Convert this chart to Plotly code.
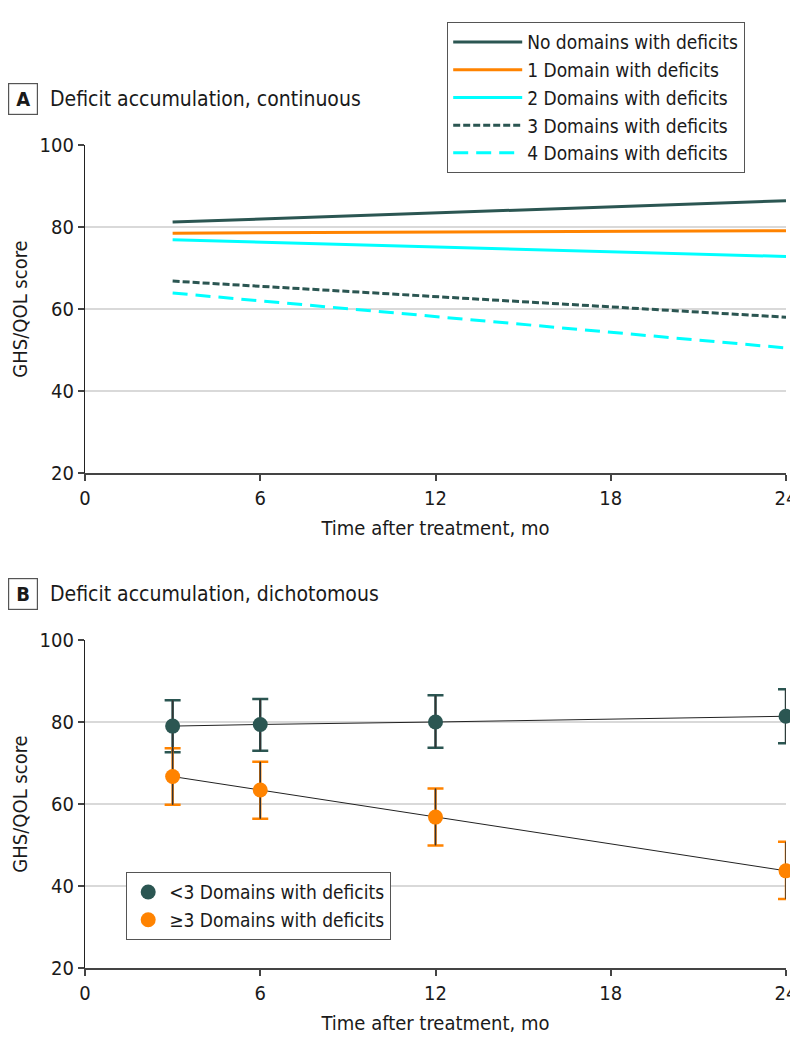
import plotly.graph_objects as go

# ---- Panel A data (model-predicted lines) ----
a_months = [3, 24]
a_series = ["No domains with deficits", "1 Domain with deficits", "2 Domains with deficits",
            "3 Domains with deficits", "4 Domains with deficits"]
a_none = [81.2, 86.4]
a_one = [78.5, 79.1]
a_two = [76.9, 72.8]
a_three = [66.8, 58.0]
a_four = [63.9, 50.5]

# ---- Panel B data (means with CIs) ----
b_months = [3, 6, 12, 24]
b_low_mean = [79.0, 79.4, 80.0, 81.4]
b_low_upper = [85.3, 85.6, 86.5, 88.0]
b_low_lower = [72.6, 73.0, 73.7, 74.8]
b_high_mean = [66.7, 63.4, 56.8, 43.7]
b_high_upper = [73.6, 70.3, 63.8, 50.8]
b_high_lower = [59.8, 56.4, 49.9, 36.8]
b_series = ["<3 Domains with deficits", "≥3 Domains with deficits"]

x_ticks = [0, 6, 12, 18, 24]
y_ticks = [20, 40, 60, 80, 100]

DARK = "#2b5652"
ORANGE = "#ff8300"
CYAN = "#00ffff"
FONT = "DejaVu Sans Condensed, Roboto, sans-serif"
TXT = "#1a1a1a"

fig = go.Figure()

a_values = [a_none, a_one, a_two, a_three, a_four]
a_styles = [
    dict(color=DARK, width=3, dash="solid"),
    dict(color=ORANGE, width=3, dash="solid"),
    dict(color=CYAN, width=3, dash="solid"),
    dict(color=DARK, width=3, dash="7px,3px"),
    dict(color=CYAN, width=3, dash="15px,8px"),
]
for name, vals, st in zip(a_series, a_values, a_styles):
    fig.add_trace(go.Scatter(x=a_months, y=vals, mode="lines", name=name, line=st,
                             xaxis="x", yaxis="y", legend="legend", cliponaxis=False))

def err(mean, up, lo):
    return [u - m for u, m in zip(up, mean)], [m - l for m, l in zip(mean, lo)]

groups = [
    (b_series[0], b_low_mean, b_low_upper, b_low_lower, DARK),
    (b_series[1], b_high_mean, b_high_upper, b_high_lower, ORANGE),
]
# connecting lines + coloured caps
for name, m, u, l, c in groups:
    plus, minus = err(m, u, l)
    fig.add_trace(go.Scatter(x=b_months, y=m, mode="lines",
                             line=dict(color="#222222", width=1),
                             error_y=dict(type="data", symmetric=False, array=plus, arrayminus=minus,
                                          color=c, thickness=2.5, width=8),
                             xaxis="x2", yaxis="y2", showlegend=False, hoverinfo="skip",
                             cliponaxis=False))
# dark stems + markers
for name, m, u, l, c in groups:
    plus, minus = err(m, u, l)
    fig.add_trace(go.Scatter(x=b_months, y=m, mode="markers", name=name,
                             marker=dict(color=c, size=15, line=dict(width=0)),
                             error_y=dict(type="data", symmetric=False, array=plus, arrayminus=minus,
                                          color="#333333", thickness=1.5, width=0),
                             xaxis="x2", yaxis="y2", legend="legend2", cliponaxis=False))

axis_common = dict(
    showline=True, linecolor="#444444", linewidth=1.5,
    ticks="outside", ticklen=6, tickcolor="#444444", tickwidth=1.5,
    tickfont=dict(family=FONT, size=20, color=TXT),
    zeroline=False, automargin=False,
)
xcommon = dict(axis_common, range=[0, 24], tickvals=x_ticks, showgrid=False,
               ticklabeloverflow="allow",
               title=dict(text="Time after treatment, mo", font=dict(family=FONT, size=20, color=TXT),
                          standoff=12))
ycommon = dict(axis_common, range=[20, 100], tickvals=y_ticks, showgrid=True,
               gridcolor="#d9d9d9", gridwidth=1.5, linecolor="#222222", linewidth=1.2,
               title=dict(text="GHS/QOL score", font=dict(family=FONT, size=20, color=TXT),
                          standoff=14))

# plot area on the page: x 85..786, y 145..968 (page content is offset by 8px)
dom_a = [(968 - 473) / 823, 1.0]
dom_b = [0.0, (968 - 640) / 823]

fig.update_layout(
    width=782, height=1028,
    margin=dict(l=77, r=4, t=137, b=68, autoexpand=False),
    paper_bgcolor="white", plot_bgcolor="white",
    font=dict(family=FONT, size=20, color=TXT),
    xaxis=dict(xcommon, domain=[0, 1], anchor="y"),
    yaxis=dict(ycommon, domain=dom_a, anchor="x"),
    xaxis2=dict(xcommon, domain=[0, 1], anchor="y2"),
    yaxis2=dict(ycommon, domain=dom_b, anchor="x2"),
    legend=dict(x=(447 - 85) / 701, y=(968 - 22) / 823, xanchor="left", yanchor="top",
                bordercolor="#555555", borderwidth=1.2, bgcolor="white",
                font=dict(family=FONT, size=19, color=TXT), tracegroupgap=0,
                itemwidth=69),
    legend2=dict(x=(126 - 85) / 701, y=(968 - 872) / 823, xanchor="left", yanchor="top",
                 bordercolor="#555555", borderwidth=1.2, bgcolor="white",
                 font=dict(family=FONT, size=19, color=TXT), tracegroupgap=0,
                 itemwidth=32),
    showlegend=True,
)

# Panel labels
for label, title, ycen in [("A", "Deficit accumulation, continuous", 99),
                           ("B", "Deficit accumulation, dichotomous", 594)]:
    yp = (968 - ycen) / 823
    fig.add_annotation(xref="paper", yref="paper", x=(8 - 85) / 701, y=yp,
                       xanchor="left", yanchor="middle", text=f"<b>{label}</b>",
                       showarrow=False, width=26, height=28, borderpad=1,
                       bordercolor="#555555", borderwidth=1.2,
                       font=dict(family=FONT, size=20, color=TXT))
    fig.add_annotation(xref="paper", yref="paper", x=(48 - 85) / 701, y=yp,
                       xanchor="left", yanchor="middle", text=title, showarrow=False,
                       font=dict(family=FONT, size=21, color=TXT))

fig.write_html("out.html")
